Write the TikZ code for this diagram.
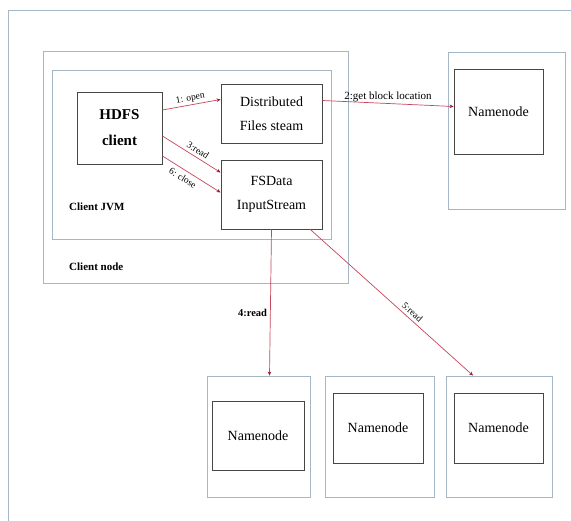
\documentclass[tikz,border=0pt]{standalone}
\usepackage{fontspec}
\setmainfont{Liberation Serif}
\usetikzlibrary{arrows.meta, positioning, calc}
\definecolor{framecolor}{RGB}{165,182,198}
\definecolor{boxcolor}{RGB}{70,70,70}
\definecolor{flowcolor}{RGB}{200,70,90}
\definecolor{tipcolor}{RGB}{150,30,50}

\begin{document}
\begin{tikzpicture}[
    x=1pt, y=-1pt,
    holder/.style={draw=framecolor, line width=0.9pt, inner sep=0pt},
    box/.style={draw=boxcolor, line width=0.9pt, inner sep=0pt, align=center, font=\fontsize{14}{24}\selectfont},
    tag/.style={font=\fontsize{11}{13}\selectfont\bfseries, inner sep=1pt},
    flowlabel/.style={font=\fontsize{9.5}{11}\selectfont, inner sep=1pt, text=black},
    flow/.style={-{Stealth[length=4pt, width=3.5pt, color=tipcolor]}, line width=0.7pt, flowcolor}
]
    \useasboundingbox (0,0) rectangle (571,521);
    \fill[white] (0,0) rectangle (571,521);
    \draw[framecolor, line width=0.9pt] (8,521) -- (8,10) -- (571,10);

    \node[holder, minimum width=305pt, minimum height=232pt] (clientnode) at (195.5,167) {};
    \node[holder, minimum width=279pt, minimum height=169pt] (clientjvm) at (191.5,154.5) {};
    \node[tag, anchor=west] (jvmtag) at (68,207) {Client JVM};
    \node[tag, anchor=west] (nodetag) at (68,267) {Client node};

    \node[box, minimum width=85pt, minimum height=72pt, font=\fontsize{15}{26}\selectfont\bfseries] (hdfs) at (119.5,128) {HDFS\\client};
    \node[box, minimum width=101pt, minimum height=59pt] (dfs) at (271.5,113.5) {Distributed\\Files steam};
    \node[box, minimum width=101pt, minimum height=69pt] (fsdata) at (271.5,194.5) {FSData\\InputStream};

    \node[holder, minimum width=117pt, minimum height=157pt] (nnholder) at (506.5,130.5) {};
    \node[box, minimum width=89pt, minimum height=85pt] (nn) at (498.5,111.5) {Namenode};

    \node[holder, minimum width=103pt, minimum height=121pt] (dnholder1) at (258.5,436.5) {};
    \node[box, minimum width=92pt, minimum height=69pt] (dn1) at (258,435.5) {Namenode};
    \node[holder, minimum width=109pt, minimum height=121pt] (dnholder2) at (379.5,436.5) {};
    \node[box, minimum width=90pt, minimum height=70pt] (dn2) at (378,428) {Namenode};
    \node[holder, minimum width=106pt, minimum height=121pt] (dnholder3) at (499,436.5) {};
    \node[box, minimum width=89pt, minimum height=70pt] (dn3) at (498.5,428) {Namenode};

    \draw[flow] ([yshift=18pt]hdfs.east) -- node[flowlabel, sloped, above=1pt] {1: open} ([yshift=14pt]dfs.west);
    \draw[flow] ([yshift=-8pt]hdfs.east) -- node[flowlabel, sloped, above=2pt, pos=0.55] {3:read} ([yshift=22pt]fsdata.west);
    \draw[flow] ([yshift=-28pt]hdfs.east) -- node[flowlabel, sloped, below=3pt, pos=0.42] {6: close} ([yshift=2pt]fsdata.west);
    \draw[flow] ([yshift=13pt]dfs.east) -- node[flowlabel, above, pos=0.5, font=\fontsize{11}{13}\selectfont] {2:get block location} ([yshift=5pt]nn.west);
    \draw[flow] (fsdata.south) -- node[flowlabel, left=2pt, pos=0.57, font=\fontsize{10.5}{13}\selectfont\bfseries] {4:read} ([xshift=11pt]dnholder1.north);
    \draw[flow] (fsdata) -- node[flowlabel, sloped, above=2pt, pos=0.6] {5:read} ([xshift=-26pt]dnholder3.north);
\end{tikzpicture}
\end{document}
